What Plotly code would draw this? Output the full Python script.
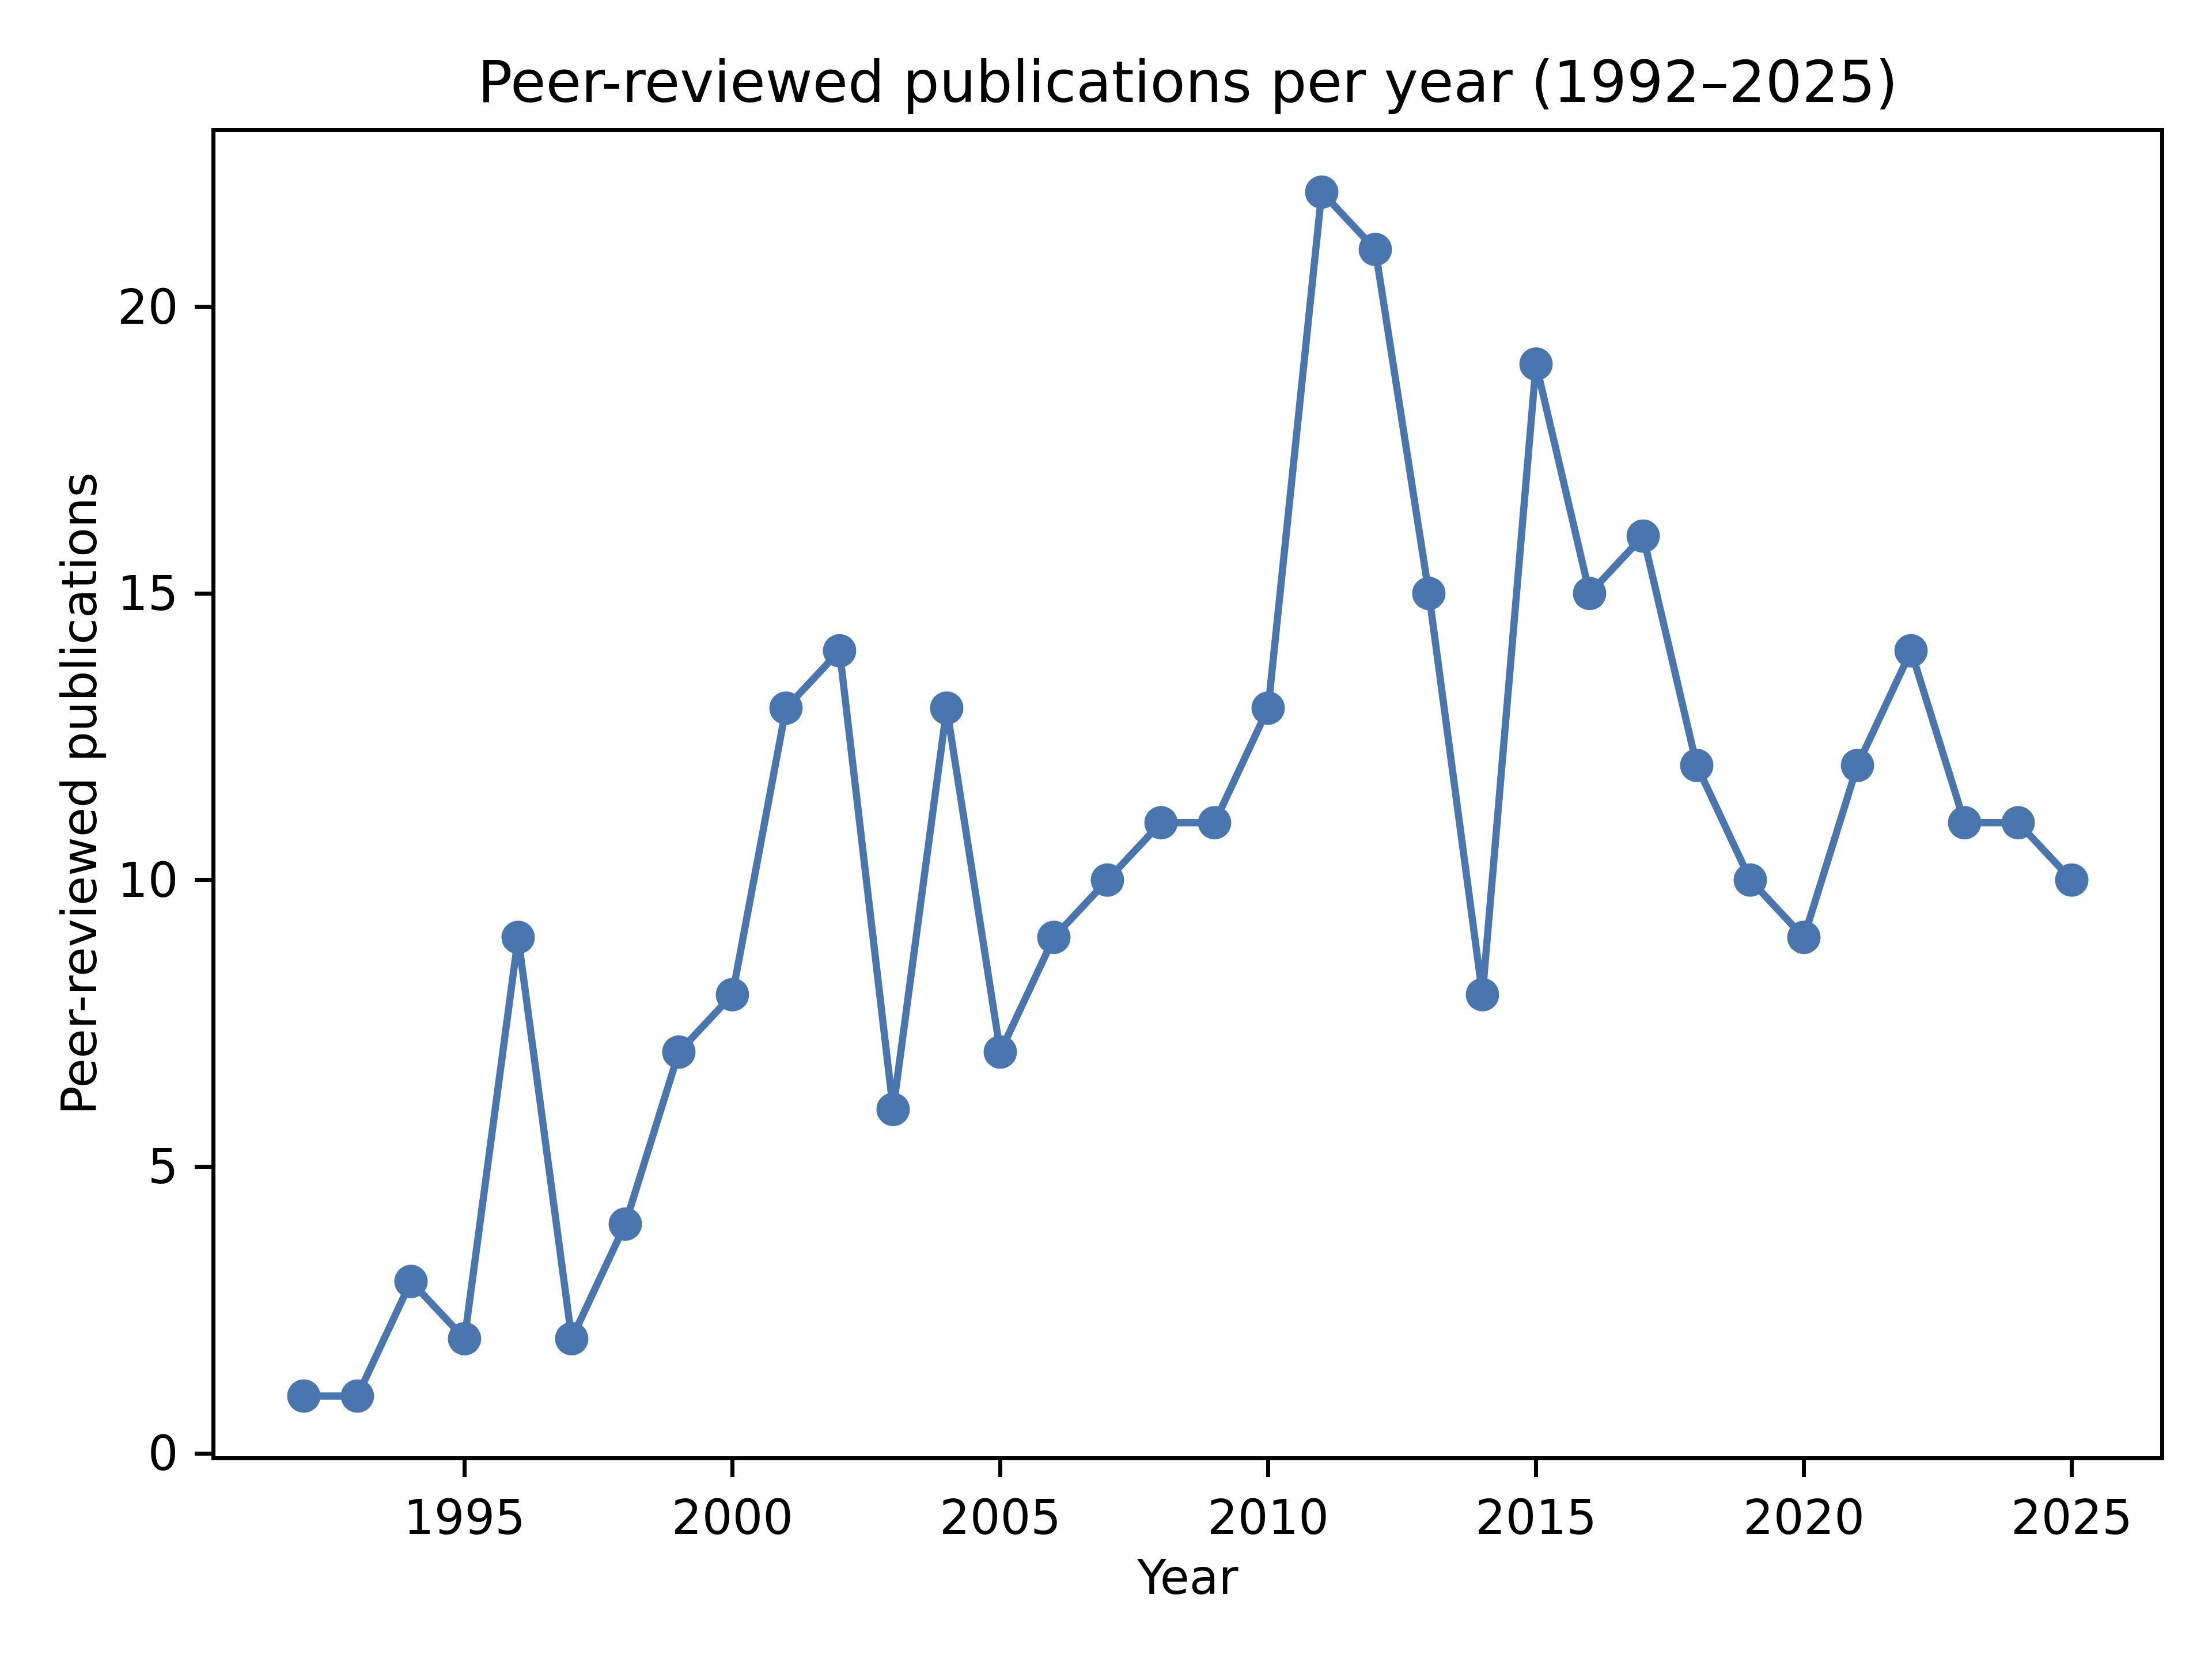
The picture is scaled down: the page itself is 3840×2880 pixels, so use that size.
import plotly.graph_objects as go

years = list(range(1992, 2026))
publications = [1, 1, 3, 2, 9, 2, 4, 7, 8, 13, 14, 6, 13, 7, 9, 10, 11, 11, 13, 22,
                21, 15, 8, 19, 15, 16, 12, 10, 9, 12, 14, 11, 11, 10]
x_ticks = [1995, 2000, 2005, 2010, 2015, 2020, 2025]
y_ticks = [0, 5, 10, 15, 20]

title = "Peer-reviewed publications per year (1992–2025)"
x_title = "Year"
y_title = "Peer-reviewed publications"

W, H = 3840, 2880
L, R, T, B = 366, 98, 221, 360
FONT = "DejaVu Sans"
COLOR = "#4A76AF"

fig = go.Figure()
fig.add_trace(go.Scatter(
    x=years, y=publications, mode="lines+markers",
    line=dict(color=COLOR, width=12.5),
    marker=dict(color=COLOR, size=58, line=dict(width=0)),
    showlegend=False,
))

axis_common = dict(
    showgrid=False, zeroline=False, showline=True, linecolor="black", linewidth=6.7,
    mirror=True, ticks="outside", ticklen=29, tickwidth=6.7, tickcolor="black",
    tickfont=dict(family=FONT, size=83, color="black"),
)

fig.update_xaxes(range=[1990.35, 2026.65], tickvals=x_ticks, ticklabelstandoff=0,
                 **axis_common)
fig.update_yaxes(range=[-0.05, 23.05], tickvals=y_ticks, ticklabelstandoff=12,
                 **axis_common)

fig.update_layout(
    width=W, height=H,
    margin=dict(l=L, r=R, t=T, b=B, pad=0),
    plot_bgcolor="white", paper_bgcolor="white",
    font=dict(family=FONT, color="black"),
    title=dict(text=title, font=dict(family=FONT, size=100, color="black"),
               x=(L + (W - R)) / 2 / W, xanchor="center",
               y=1 - 134 / H, yanchor="middle", yref="container"),
    annotations=[
        dict(text=x_title, xref="paper", yref="paper", x=0.5, y=-(2730 - (H - B)) / (H - T - B),
             xanchor="center", yanchor="middle", showarrow=False,
             font=dict(family=FONT, size=83, color="black")),
        dict(text=y_title, xref="paper", yref="paper", x=-(L - 130) / (W - L - R), y=0.5,
             xanchor="center", yanchor="middle", showarrow=False, textangle=-90,
             font=dict(family=FONT, size=83, color="black")),
    ],
)

fig.write_html("out.html")
